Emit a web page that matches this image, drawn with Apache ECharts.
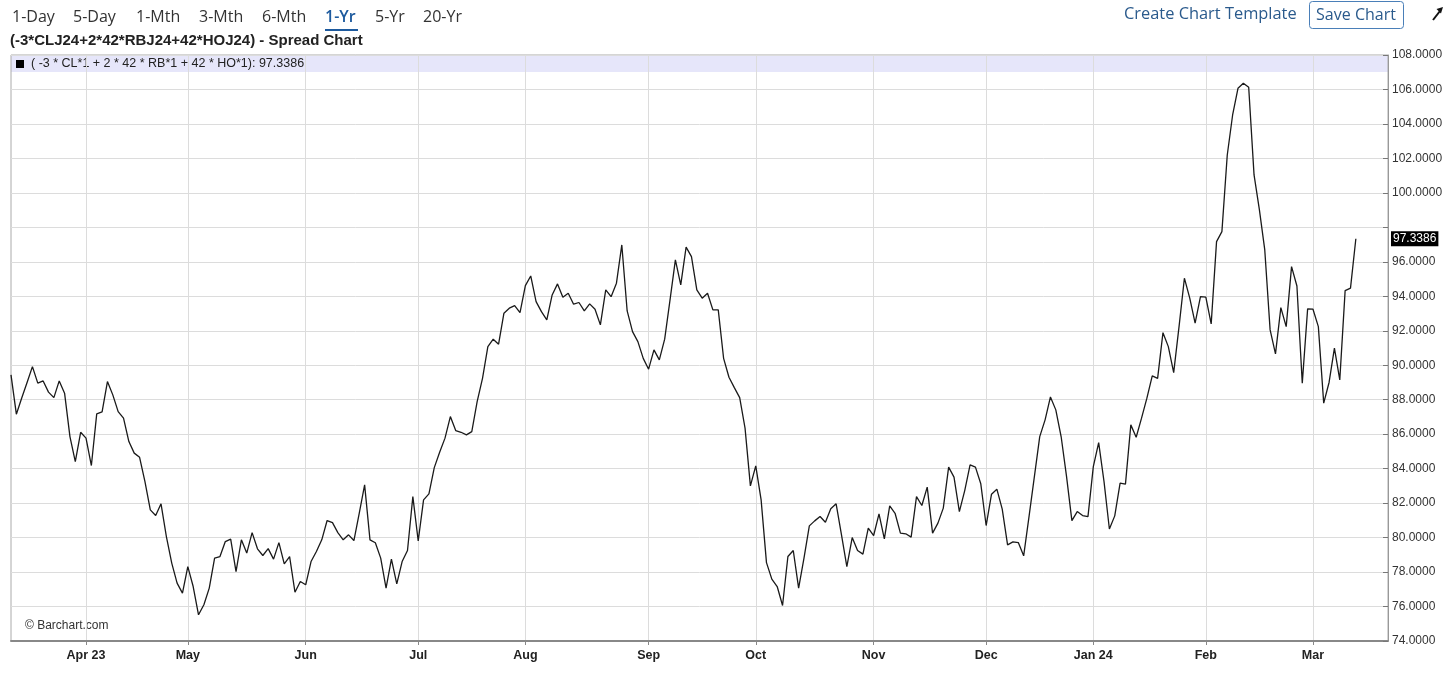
<!DOCTYPE html>
<html>
<head>
<meta charset="utf-8">
<script src="https://cdn.jsdelivr.net/npm/echarts@6/dist/echarts.min.js"></script>
<style>
html,body{margin:0;padding:0;background:#fff;}
#c{width:1456px;height:674px;}
</style>
</head>
<body>
<div id="c"></div>
<script>
// ---------- data ----------
const startDay = '2023-03-14';
const endDay = '2024-03-21';   // axis runs a few sessions past the last close
const holidays = ['2023-04-07','2023-05-29','2023-06-19','2023-07-04','2023-09-04',
  '2023-11-23','2023-12-25','2024-01-01','2024-01-15','2024-02-19'];

const spreadValues = [
  89.44, 87.16, 88.1, 89.0, 89.92, 88.96, 89.09, 88.44, 88.12, 89.09,
  88.38, 85.86, 84.41, 86.11, 85.77, 84.18, 87.18, 87.29, 89.05, 88.28,
  87.31, 86.93, 85.57, 84.9, 84.66, 83.25, 81.61, 81.28, 81.96, 80.06,
  78.52, 77.36, 76.78, 78.32, 77.16, 75.52, 76.1, 77.07, 78.81, 78.9,
  79.77, 79.91, 78.03, 79.87, 79.1, 80.29, 79.35, 78.96, 79.36, 78.75,
  79.71, 78.48, 78.9, 76.83, 77.45, 77.26, 78.61, 79.19, 79.87, 80.99,
  80.87, 80.29, 79.87, 80.16, 79.83, 81.42, 83.06, 79.87, 79.7, 78.81,
  77.07, 78.75, 77.32, 78.61, 79.25, 82.38, 79.81, 82.19, 82.54, 84.06,
  84.95, 85.77, 87.02, 86.21, 86.11, 85.96, 86.15, 87.89, 89.24, 91.08,
  91.51, 91.22, 93.02, 93.31, 93.46, 93.05, 94.62, 95.18, 93.69, 93.11,
  92.63, 94.08, 94.72, 93.95, 94.18, 93.54, 93.64, 93.15, 93.56, 93.25,
  92.34, 94.37, 93.98, 94.76, 96.98, 93.15, 91.95, 91.37, 90.4, 89.77,
  90.89, 90.31, 91.51, 93.79, 96.11, 94.66, 96.85, 96.3, 94.37, 93.89,
  94.18, 93.21, 93.21, 90.4, 89.3, 88.7, 88.12, 86.35, 83.0, 84.16,
  82.19, 78.55, 77.59, 77.16, 76.06, 78.9, 79.25, 77.07, 78.81, 80.68,
  80.97, 81.22, 80.89, 81.67, 81.96, 80.16, 78.32, 80.0, 79.25, 79.04,
  80.55, 80.12, 81.38, 79.93, 81.84, 81.41, 80.26, 80.22, 80.03, 82.38,
  81.86, 82.93, 80.26, 80.84, 81.71, 84.09, 83.51, 81.51, 82.73, 84.22,
  84.09, 83.12, 80.7, 82.52, 82.81, 81.65, 79.58, 79.75, 79.71, 78.94,
  81.22, 83.54, 85.86, 86.83, 88.16, 87.41, 85.85, 83.55, 80.98, 81.51,
  81.28, 81.22, 84.12, 85.51, 83.25, 80.5, 81.26, 83.16, 83.1, 86.54,
  85.82, 86.93, 88.09, 89.38, 89.24, 91.89, 91.08, 89.57, 92.24, 95.05,
  93.89, 92.44, 93.98, 93.95, 92.4, 97.17, 97.75, 102.2, 104.52, 106.07,
  106.36, 106.13, 101.04, 99.01, 96.69, 92.05, 90.66, 93.34, 92.24, 95.72,
  94.6, 88.96, 93.27, 93.25, 92.24, 87.8, 89.0, 90.99, 89.15, 94.33,
  94.47, 97.3386
];

const tickMonths = ['2023-04','2023-05','2023-06','2023-07','2023-08','2023-09',
  '2023-10','2023-11','2023-12','2024-01','2024-02','2024-03'];
const tickLabels = ['Apr 23','May','Jun','Jul','Aug','Sep','Oct','Nov','Dec','Jan 24','Feb','Mar'];

const yMin = 74, yMax = 108, yStep = 2;

const toolbarItems = ['1-Day','5-Day','1-Mth','3-Mth','6-Mth','1-Yr','5-Yr','20-Yr'];
const activeItem = '1-Yr';
const chartTitle = '(-3*CLJ24+2*42*RBJ24+42*HOJ24) - Spread Chart';
const legendName = '( -3 * CL*1 + 2 * 42 * RB*1 + 42 * HO*1)';

// ---------- build categories (trading sessions) ----------
function tradingDays(s, e, hol) {
  const out = [];
  const d = new Date(s + 'T00:00:00Z');
  const end = new Date(e + 'T00:00:00Z');
  while (d <= end) {
    const w = d.getUTCDay();
    const k = d.toISOString().slice(0, 10);
    if (w !== 0 && w !== 6 && !hol.includes(k)) out.push(k);
    d.setUTCDate(d.getUTCDate() + 1);
  }
  return out;
}
const categories = tradingDays(startDay, endDay, holidays);
const firstOfMonth = new Set();
for (let i = 1; i < categories.length; i++) {
  if (categories[i].slice(0, 7) !== categories[i - 1].slice(0, 7) &&
      tickMonths.includes(categories[i].slice(0, 7))) firstOfMonth.add(i);
}
const isTick = (idx) => firstOfMonth.has(idx);
const labelFor = (v) => {
  const k = tickMonths.indexOf(String(v).slice(0, 7));
  return k >= 0 ? tickLabels[k] : '';
};
const lastValue = spreadValues[spreadValues.length - 1];

// ---------- layout ----------
const G = { left: 11, right: 68, top: 55, bottom: 33 };
const plotW = 1456 - G.left - G.right;
const ui = 'Open Sans';
const toolbarX = [12, 73, 136, 199, 262, 325, 375, 423];

const graphics = [];
// legend band
graphics.push({ type: 'rect', z: -1, silent: true,
  shape: { x: G.left, y: G.top, width: plotW, height: 17 },
  style: { fill: '#e6e6fa' } });
graphics.push({ type: 'rect', silent: true, shape: { x: 16, y: 60, width: 8, height: 8 }, style: { fill: '#000' } });
graphics.push({ type: 'text', silent: true, x: 31, y: 64,
  style: { text: legendName + ': ' + lastValue.toFixed(4), font: '12.5px "Liberation Sans", Arial, sans-serif',
    fill: '#222', verticalAlign: 'middle' } });
// title
graphics.push({ type: 'text', silent: true, x: 10, y: 41,
  style: { text: chartTitle, font: 'bold 15px "Liberation Sans", Arial, sans-serif', fill: '#222', verticalAlign: 'middle' } });
// toolbar
toolbarItems.forEach((t, i) => {
  const active = t === activeItem;
  graphics.push({ type: 'text', silent: true, x: toolbarX[i], y: 17,
    style: { text: t, font: (active ? '600 ' : '') + '16px "' + ui + '", sans-serif',
      fill: active ? '#1d5a9e' : '#333', verticalAlign: 'middle' } });
  if (active) {
    graphics.push({ type: 'rect', silent: true, shape: { x: toolbarX[i], y: 29, width: 33, height: 2 }, style: { fill: '#1d5a9e' } });
  }
});
graphics.push({ type: 'text', silent: true, x: 1124, y: 14,
  style: { text: 'Create Chart Template', font: '16.4px "' + ui + '", sans-serif', fill: '#2a5a8c', verticalAlign: 'middle' } });
graphics.push({ type: 'rect', silent: true, shape: { x: 1309.5, y: 1.5, width: 94, height: 27, r: 3 },
  style: { fill: '#fff', stroke: '#4a7fb8', lineWidth: 1 } });
graphics.push({ type: 'text', silent: true, x: 1356, y: 15,
  style: { text: 'Save Chart', font: '16px "' + ui + '", sans-serif', fill: '#2a5a8c', align: 'center', verticalAlign: 'middle' } });
// expand arrow
graphics.push({ type: 'line', silent: true, shape: { x1: 1433, y1: 20, x2: 1440, y2: 11 }, style: { stroke: '#111', lineWidth: 2 } });
graphics.push({ type: 'polygon', silent: true, shape: { points: [[1443, 7], [1436.5, 9], [1441, 13.5]] }, style: { fill: '#111' } });
// watermark
graphics.push({ type: 'text', silent: true, x: 25, y: 626,
  style: { text: '\u00A9 Barchart.com', font: '12px "Liberation Sans", Arial, sans-serif', fill: '#333', verticalAlign: 'middle' } });

const chart = echarts.init(document.getElementById('c'), null, { renderer: 'canvas' });
chart.setOption({
  animation: false,
  backgroundColor: '#fff',
  grid: { left: G.left, right: G.right, top: G.top, bottom: G.bottom, show: true, borderColor: '#aaa', borderWidth: 1 },
  xAxis: {
    type: 'category', data: categories, boundaryGap: false,
    axisLine: { lineStyle: { color: '#888', width: 2 } },
    axisTick: { interval: isTick, length: 4, lineStyle: { color: '#888' } },
    axisLabel: { interval: isTick, formatter: (v) => labelFor(v), fontFamily: '"Liberation Sans", Arial, sans-serif',
      fontWeight: 'bold', fontSize: 12.5, color: '#222', margin: 8 },
    splitLine: { show: true, interval: isTick, lineStyle: { color: '#dcdcdc', width: 1 } }
  },
  yAxis: {
    type: 'value', position: 'right', min: yMin, max: yMax, interval: yStep,
    axisLine: { show: true, lineStyle: { color: '#999' } },
    axisTick: { show: true, inside: true, length: 5, lineStyle: { color: '#777' } },
    axisLabel: { formatter: (v) => (v === 98 ? '' : v.toFixed(4)), fontFamily: '"Liberation Sans", Arial, sans-serif',
      fontSize: 12, color: '#333', margin: 4 },
    splitLine: { lineStyle: { color: '#dcdcdc', width: 1 } }
  },
  graphic: graphics,
  series: [{
    type: 'line', data: spreadValues, showSymbol: false, symbol: 'none',
    lineStyle: { color: '#1a1a1a', width: 1.3 },
    emphasis: { disabled: true },
    markLine: {
      silent: true, symbol: 'none', animation: false,
      data: [{ yAxis: lastValue }],
      lineStyle: { color: 'rgba(0,0,0,0)', width: 1, type: 'solid' },
      label: { show: true, position: 'end', distance: 3, formatter: () => lastValue.toFixed(4),
        backgroundColor: '#000', color: '#fff', padding: [2, 2, 1, 2], fontSize: 12,
        fontFamily: '"Liberation Sans", Arial, sans-serif', opacity: 1 }
    }
  }]
});
</script>
</body>
</html>
